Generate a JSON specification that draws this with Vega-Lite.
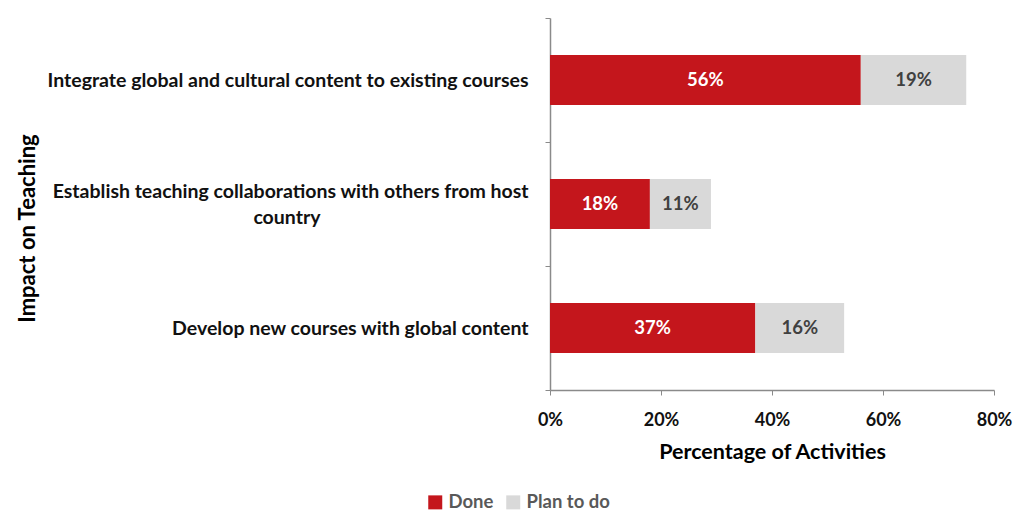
{
  "$schema": "https://vega.github.io/schema/vega-lite/v6.json",
  "width": 444,
  "height": 372,
  "autosize": "none",
  "padding": {"left": 550, "top": 18, "right": 25, "bottom": 121},
  "background": "white",
  "config": {"view": {"stroke": null}, "font": "Lato"},
  "data": {
    "values": [
      {"cat": "Integrate global and cultural content to existing courses", "status": "Done", "ord": 1, "value": 56},
      {"cat": "Integrate global and cultural content to existing courses", "status": "Plan to do", "ord": 2, "value": 19},
      {"cat": "Establish teaching collaborations with others from host country", "status": "Done", "ord": 1, "value": 18},
      {"cat": "Establish teaching collaborations with others from host country", "status": "Plan to do", "ord": 2, "value": 11},
      {"cat": "Develop new courses with global content", "status": "Done", "ord": 1, "value": 37},
      {"cat": "Develop new courses with global content", "status": "Plan to do", "ord": 2, "value": 16}
    ]
  },
  "transform": [
    {"stack": "value", "groupby": ["cat"], "sort": [{"field": "ord"}], "as": ["v0", "v1"]},
    {"calculate": "(datum.v0 + datum.v1) / 2", "as": "mid"},
    {"calculate": "datum.value + '%'", "as": "label"}
  ],
  "encoding": {
    "y": {
      "field": "cat",
      "type": "nominal",
      "sort": [
        "Integrate global and cultural content to existing courses",
        "Establish teaching collaborations with others from host country",
        "Develop new courses with global content"
      ],
      "scale": {"paddingInner": 0, "paddingOuter": 0},
      "axis": {
        "title": "Impact on Teaching",
        "titleFont": "Lato",
        "titleFontSize": 22,
        "titleFontWeight": "bold",
        "titleColor": "#000000",
        "titleAngle": -90,
        "titleX": -523,
        "titleY": 210,
        "titleAlign": "center",
        "titleBaseline": "middle",
        "labelExpr": "datum.value == 'Establish teaching collaborations with others from host country' ? ['Establish teaching collaborations with others from host', pad('country', 51, '\u00a0') + '\u200b'] : datum.value",
        "labelBaseline": {
          "condition": {"test": "datum.value == 'Establish teaching collaborations with others from host country'", "value": "line-bottom"},
          "value": "middle"
        },
        "labelFont": "Lato",
        "labelFontSize": 19.5,
        "labelFontWeight": "bold",
        "labelColor": "#111111",
        "labelLimit": 800,
        "labelPadding": 17,
        "labelLineHeight": 26,
        "tickBand": "extent",
        "tickSize": 5,
        "tickColor": "#8a8a8a",
        "domainColor": "#8a8a8a",
        "domainWidth": 1.5
      }
    }
  },
  "layer": [
    {
      "mark": {"type": "bar", "height": {"band": 0.403}},
      "encoding": {
        "x": {
          "field": "v0",
          "type": "quantitative",
          "scale": {"domain": [0, 80]},
          "axis": {
            "values": [0, 20, 40, 60, 80],
            "labelExpr": "datum.value + '%'",
            "title": "Percentage of Activities",
            "titleFont": "Lato",
            "titleFontSize": 21.5,
            "titleFontWeight": "bold",
            "titleColor": "#000000",
            "titleY": 62,
            "titleBaseline": "middle",
            "labelFont": "Lato",
            "labelFontSize": 18,
            "labelFontWeight": "bold",
            "labelColor": "#111111",
            "labelPadding": 16,
            "labelFlush": false,
            "grid": false,
            "tickSize": 5,
            "tickColor": "#8a8a8a",
            "domainColor": "#8a8a8a",
            "domainWidth": 1.5
          }
        },
        "x2": {"field": "v1"},
        "color": {
          "field": "status",
          "type": "nominal",
          "scale": {"domain": ["Done", "Plan to do"], "range": ["#C4161C", "#D9D9D9"]},
          "legend": {
            "title": null,
            "orient": "none",
            "direction": "horizontal",
            "legendX": -124,
            "legendY": 475,
            "symbolType": "square",
            "symbolSize": 196,
            "symbolStrokeWidth": 0,
            "labelFont": "Lato",
            "labelFontSize": 18.5,
            "labelFontWeight": "bold",
            "labelColor": "#595959",
            "labelOffset": 4,
            "columnPadding": 10
          }
        }
      }
    },
    {
      "mark": {"type": "text", "font": "Lato", "fontSize": 18.5, "fontWeight": "bold", "baseline": "middle", "align": "center"},
      "encoding": {
        "x": {"field": "mid", "type": "quantitative"},
        "text": {"field": "label", "type": "nominal"},
        "color": {
          "condition": {"test": "datum.status == 'Done'", "value": "#FFFFFF"},
          "value": "#404040"
        }
      }
    }
  ]
}
